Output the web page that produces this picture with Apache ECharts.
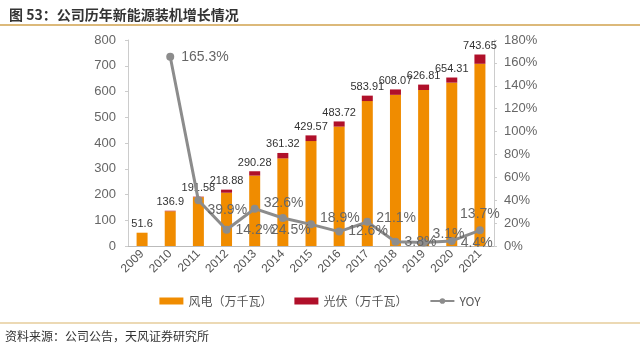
<!DOCTYPE html>
<html>
<head>
<meta charset="utf-8">
<script src="https://cdn.jsdelivr.net/npm/echarts@6/dist/echarts.min.js"></script>
<style>
  html, body { margin: 0; padding: 0; background: #fff; }
  #chart { width: 640px; height: 350px; }
</style>
</head>
<body>
<div id="chart"></div>
<script>
// 年份
var years = ['2009', '2010', '2011', '2012', '2013', '2014', '2015', '2016', '2017', '2018', '2019', '2020', '2021'];
// 装机合计（万千瓦）
var totals = [51.6, 136.9, 191.58, 218.88, 290.28, 361.32, 429.57, 483.72, 583.91, 608.07, 626.81, 654.31, 743.65];
// 光伏（万千瓦），从图上估计
var solar = [0, 2, 2, 12, 17, 21, 22, 20, 21, 21, 21, 20, 36];
// 风电 = 合计 - 光伏
var wind = totals.map(function (t, i) { return +(t - solar[i]).toFixed(2); });
// 同比增速 %
var yoy = [null, 165.3, 39.9, 14.2, 32.6, 24.5, 18.9, 12.6, 21.1, 3.8, 3.1, 4.4, 13.7];
// 标签位置
var yoyPos = [null, 'right', 'right', 'right', 'right', 'bottom', 'right', 'right', 'right', 'right', 'right', 'right', 'top'];
var yoyOffset = [null, [2, 0], [0, 10], [0, 0], [0, -6], [8, -4], [0, -6], [0, 0], [0, -4], [0, 0], [0, -8], [0, 2], [0, 0]];

var chart = echarts.init(document.getElementById('chart'));

var yoyData = yoy.map(function (v, i) {
    if (v == null) return null;
    return {
        value: v,
        label: { position: yoyPos[i], offset: yoyOffset[i] }
    };
});

var option = {
    backgroundColor: '#fff',
    animation: false,
    title: {
        text: '图 53：公司历年新能源装机增长情况',
        left: 4, top: 3,
        textStyle: { fontSize: 14, fontWeight: 'bold', color: '#333', fontFamily: 'Noto Sans CJK SC' }
    },
    graphic: [
        { type: 'rect', shape: { x: 0, y: 24, width: 640, height: 2 }, style: { fill: '#dcb97a' } },
        { type: 'rect', shape: { x: 0, y: 322, width: 640, height: 2 }, style: { fill: '#ecd9b4' } },
        { type: 'text', left: 5, top: 330,
          style: { text: '资料来源：公司公告，天风证券研究所', fill: '#333', fontSize: 12, fontFamily: 'Noto Sans CJK SC' } }
    ],
    legend: {
        bottom: 38,
        left: 'center',
        itemWidth: 24, itemHeight: 7, itemGap: 22,
        textStyle: { fontSize: 12, color: '#555', fontFamily: 'Noto Sans CJK SC' },
        data: [
            { name: '风电（万千瓦）', icon: 'rect' },
            { name: '光伏（万千瓦）', icon: 'rect' },
            { name: 'YOY' }
        ]
    },
    grid: { left: 128, right: 146, top: 40, bottom: 104 },
    xAxis: {
        type: 'category',
        data: years,
        axisLine: { lineStyle: { color: '#bbb' } },
        axisTick: { show: false },
        axisLabel: { rotate: 45, color: '#555', fontSize: 12, fontFamily: 'Liberation Sans', margin: 6 }
    },
    yAxis: [
        {
            type: 'value', min: 0, max: 800, interval: 100,
            axisLine: { show: true, lineStyle: { color: '#ccc' } },
            axisTick: { show: true, length: 3, lineStyle: { color: '#ccc' } },
            splitLine: { show: false },
            axisLabel: { color: '#666', fontSize: 13, fontFamily: 'Liberation Sans', margin: 12 }
        },
        {
            type: 'value', min: 0, max: 180, interval: 20,
            axisLine: { show: true, lineStyle: { color: '#ccc' } },
            axisTick: { show: true, length: 3, lineStyle: { color: '#ccc' } },
            splitLine: { show: false },
            axisLabel: { formatter: '{value}%', color: '#666', fontSize: 13, fontFamily: 'Liberation Sans', margin: 10 }
        }
    ],
    series: [
        {
            name: '风电（万千瓦）',
            type: 'bar',
            stack: 'cap',
            barWidth: 11,
            itemStyle: { color: '#f08c00' },
            data: wind
        },
        {
            name: '光伏（万千瓦）',
            type: 'bar',
            stack: 'cap',
            barWidth: 11,
            itemStyle: { color: '#b0102a' },
            label: {
                show: true, position: 'top', distance: 3,
                color: '#333', fontSize: 11, fontFamily: 'Liberation Sans',
                formatter: function (p) { return totals[p.dataIndex]; }
            },
            data: solar
        },
        {
            name: 'YOY',
            type: 'line',
            yAxisIndex: 1,
            symbol: 'circle',
            symbolSize: 8,
            connectNulls: false,
            lineStyle: { color: '#8c8c8c', width: 3 },
            itemStyle: { color: '#8c8c8c' },
            label: {
                show: true, color: '#666', fontSize: 14, fontFamily: 'Liberation Sans',
                formatter: function (p) { return p.value + '%'; }
            },
            data: yoyData
        }
    ]
};

chart.setOption(option);
</script>
</body>
</html>
